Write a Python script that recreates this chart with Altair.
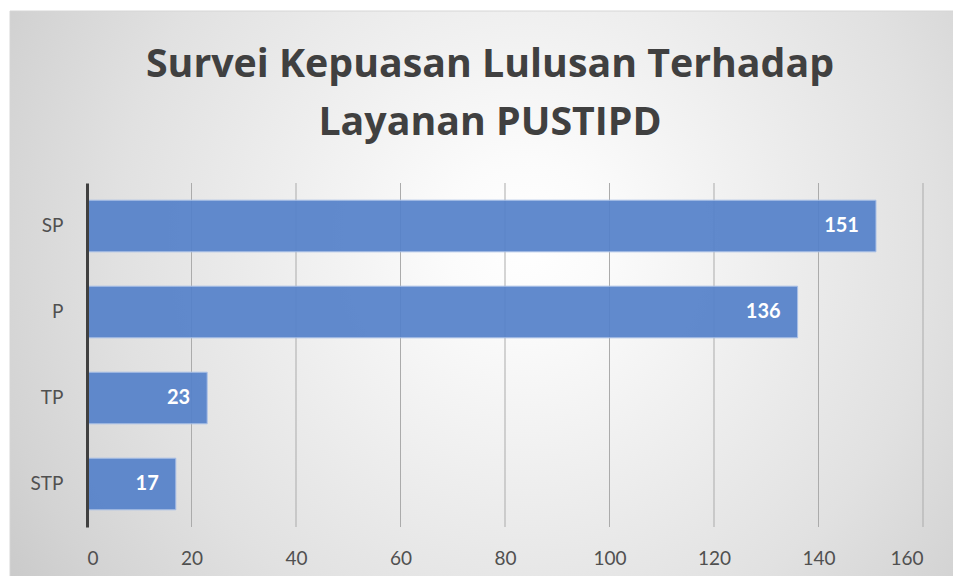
import altair as alt
import pandas as pd

title_lines = ["Survei Kepuasan Lulusan Terhadap", "Layanan PUSTIPD"]
categories = ["SP", "P", "TP", "STP"]
values = [151, 136, 23, 17]
x_ticks = [0, 20, 40, 60, 80, 100, 120, 140, 160]
grid_ticks = [20, 40, 60, 80, 100, 120, 140, 160]

df = pd.DataFrame({"cat": categories, "val": values})
grid_df = pd.DataFrame({"g": grid_ticks})
title_df = pd.DataFrame({"t": ["\n".join(title_lines)]})

W, H = 836, 344
FONT = "Lato"

x_scale = alt.Scale(domain=[0, 160], nice=False, zero=True)
y_scale = alt.Scale(domain=categories, paddingInner=0.4, paddingOuter=0.2)

gradient = {
    "gradient": "radial",
    "x1": 0.53, "y1": 0.43, "r1": 0,
    "x2": 0.53, "y2": 0.43, "r2": 0.7,
    "stops": [
        {"offset": 0, "color": "#ffffff"},
        {"offset": 0.12, "color": "#fbfbfb"},
        {"offset": 0.6, "color": "#e1e1e1"},
        {"offset": 0.8, "color": "#d3d3d3"},
        {"offset": 1, "color": "#c2c2c2"},
    ],
}

bg = alt.Chart(pd.DataFrame({"a": [0]})).mark_rect(
    fill=gradient, stroke="#d6d6d6", strokeWidth=1
).encode(
    x=alt.value(-77), x2=alt.value(W + 60),
    y=alt.value(-172), y2=alt.value(H + 80),
)

title = alt.Chart(title_df).mark_text(
    align="center", baseline="alphabetic", lineBreak="\n", lineHeight=58,
    font="Open Sans", fontSize=39.3, fontWeight="bold", color="#404040",
).encode(
    text="t:N",
    x=alt.value(W / 2 - 15),
    y=alt.value(-106),
)

grid = alt.Chart(grid_df).mark_rule(color="#ababab", strokeWidth=1).encode(
    x=alt.X("g:Q", scale=x_scale),
    y=alt.value(0), y2=alt.value(H),
)

bars = alt.Chart(df).mark_bar(
    color="#5581c9", fillOpacity=0.93, stroke="#a9bfe6", strokeWidth=1
).encode(
    x=alt.X("val:Q", scale=x_scale,
            axis=alt.Axis(values=x_ticks, grid=False, domain=False, ticks=False,
                          labelFont=FONT, labelFontSize=19, labelColor="#505050",
                          labelPadding=22, title=None, zindex=1)),
    y=alt.Y("cat:N", scale=y_scale, sort=categories,
            axis=alt.Axis(grid=False, ticks=False, domain=True, domainColor="#404040",
                          domainWidth=3, labelFont=FONT, labelFontSize=19,
                          labelColor="#505050", labelPadding=24, title=None, zindex=1)),
)

labels = alt.Chart(df).mark_text(
    align="right", baseline="middle", dx=-17, color="white",
    font=FONT, fontSize=20, fontWeight="bold"
).encode(
    x=alt.X("val:Q", scale=x_scale),
    y=alt.Y("cat:N", scale=y_scale, sort=categories),
    text=alt.Text("val:Q"),
)

chart = alt.layer(bg, title, grid, bars, labels).properties(
    width=W, height=H,
    autosize=alt.AutoSizeParams(type="none"),
    padding={"left": 79, "top": 175, "right": 30, "bottom": 49},
).configure_view(stroke=None)

chart.save("out.html", embed_options={"renderer": "svg", "actions": False})
